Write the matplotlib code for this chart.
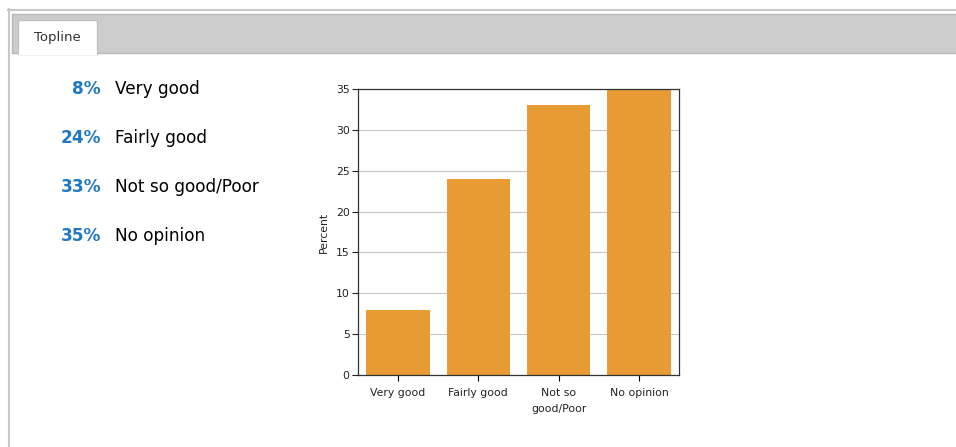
import matplotlib
matplotlib.use("Agg")
import matplotlib.pyplot as plt
from matplotlib.patches import Rectangle
from matplotlib.lines import Line2D
import numpy as np

categories = ["Very good", "Fairly good", "Not so\ngood/Poor", "No opinion"]
list_labels = ["Very good", "Fairly good", "Not so good/Poor", "No opinion"]
percent = [8, 24, 33, 35]
y_ticks = [0, 5, 10, 15, 20, 25, 30, 35]

W, H = 956, 447
fig = plt.figure(figsize=(W / 100, H / 100), dpi=100)
fig.patch.set_facecolor("white")


def fx(x):
    return x / W


def fy(y):
    return 1 - y / H


def rect(x0, y0, x1, y1, **kw):
    fig.patches.append(Rectangle((fx(x0), fy(y1)), fx(x1) - fx(x0), fy(y0) - fy(y1),
                                 transform=fig.transFigure, figure=fig, **kw))


def line(xs, ys, **kw):
    fig.lines.append(Line2D([fx(x) for x in xs], [fy(y) for y in ys],
                            transform=fig.transFigure, figure=fig, **kw))


# page frame
line([8, 956], [9.5, 9.5], color="#c8c8c8", lw=1.5)
line([8.5, 8.5], [9, 447], color="#c8c8c8", lw=1.5)

# tab bar
rect(12, 14, 960, 53, facecolor="#cccccc", edgecolor="#b8b8b8", lw=1)
rect(18, 20, 97, 54, facecolor="white", edgecolor="#c0c0c0", lw=1)
rect(18.5, 50, 96.5, 55, facecolor="white", edgecolor="none")
fig.text(fx(57), fy(38), "Topline", ha="center", va="center",
         fontsize=9.5, color="#333333")

# text list
for i, (p, lab) in enumerate(zip(percent, list_labels)):
    yy = fy(89 + i * 49)
    fig.text(fx(101), yy, f"{p}%", ha="right", va="center", fontsize=12.2,
             fontweight="bold", color="#1f78c1")
    fig.text(fx(115), yy, lab, ha="left", va="center", fontsize=12.2,
             color="black")

# bar chart
ax = fig.add_axes([fx(358), fy(375), fx(679) - fx(358), fy(89) - fy(375)])
x = np.arange(len(categories))
ax.bar(x, percent, width=0.79, color="#e89a33", zorder=2)
ax.set_xlim(-0.5, len(categories) - 0.5)
ax.set_ylim(0, 35)
ax.set_yticks(y_ticks)
ax.set_xticks(x)
ax.set_xticklabels(categories, fontsize=7.8, color="#222222", linespacing=1.75)
ax.tick_params(axis="y", labelsize=7.8, colors="#222222", length=4, width=0.8, pad=2)
ax.tick_params(axis="x", length=4, width=0.8, pad=5)
ax.grid(axis="y", color="#c8c8c8", lw=0.8, zorder=0)
for s in ax.spines.values():
    s.set_color("#333333")
    s.set_linewidth(0.9)
ax.set_ylabel("Percent", fontsize=7.8, color="#222222", labelpad=5)

fig.savefig("out.png", dpi=100)
